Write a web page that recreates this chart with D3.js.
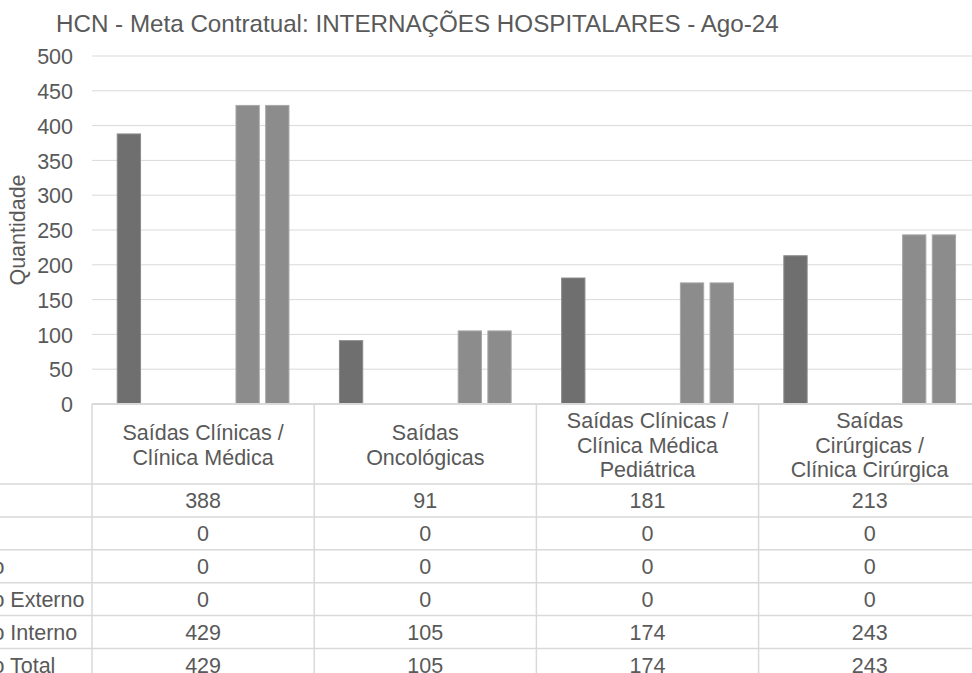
<!DOCTYPE html>
<html>
<head>
    <meta charset="UTF-8">
    <title>HCN - Internações Hospitalares</title>
    <style>
        body {
            margin: 0;
            background-color: white;
            overflow: hidden;
        }
        svg text {
            font-family: "Liberation Sans", Arial, sans-serif;
            fill: #595959;
        }
    </style>
</head>
<body>
    <svg></svg>
    <script src="https://d3js.org/d3.v7.min.js"></script>
    <script>
        // categories (line breaks as in the table header)
        let categories = ["Saídas Clínicas /\nClínica Médica", "Saídas\nOncológicas",
            "Saídas Clínicas /\nClínica Médica\nPediátrica", "Saídas\nCirúrgicas /\nClínica Cirúrgica"];
        // series (rows of the data table)
        let seriesNames = ["Realizado", "Meta", "Contratado", "Contratado Externo", "Contratado Interno", "Contratado Total"];
        let realizado = [388, 91, 181, 213];
        let meta = [0, 0, 0, 0];
        let contratado = [0, 0, 0, 0];
        let contratadoExterno = [0, 0, 0, 0];
        let contratadoInterno = [429, 105, 174, 243];
        let contratadoTotal = [429, 105, 174, 243];
        let yTicks = [0, 50, 100, 150, 200, 250, 300, 350, 400, 450, 500];

        let seriesValues = [realizado, meta, contratado, contratadoExterno, contratadoInterno, contratadoTotal];
        let seriesFill = ["#6f6f6f", "#7f7f7f", "#a5a5a5", "#bfbfbf", "#8c8c8c", "#8c8c8c"];
        let seriesStroke = ["#8a8a8a", "#999", "#bbb", "#ccc", "#a8a8a8", "#a8a8a8"];

        let width = 972, height = 673;
        let plotLeft = 92, plotTop = 56, plotBottom = 404;
        let colW = 222.2;
        let headerH = 80, rowH = 32.9;

        let svg = d3.select("svg")
            .attr("width", width)
            .attr("height", height);

        let x0 = d3.scaleBand()
            .domain(categories)
            .range([plotLeft, plotLeft + colW * categories.length]);

        let x1 = d3.scaleBand()
            .domain(seriesNames)
            .range([0, x0.bandwidth()])
            .paddingInner(0.215)
            .paddingOuter(0.85);

        let y = d3.scaleLinear()
            .domain([0, 500])
            .range([plotBottom, plotTop]);

        // gridlines
        svg.append("g")
            .selectAll("line")
            .data(yTicks.slice(1))
            .enter()
            .append("line")
            .attr("x1", plotLeft)
            .attr("x2", width)
            .attr("y1", d => y(d))
            .attr("y2", d => y(d))
            .attr("stroke", "#d9d9d9")
            .attr("stroke-width", 1);

        // y axis labels
        let yAxis = d3.axisLeft(y).tickValues(yTicks).tickSize(0).tickPadding(19);
        svg.append("g")
            .attr("transform", "translate(" + plotLeft + ",0)")
            .call(yAxis)
            .call(g => g.select(".domain").remove())
            .selectAll("text")
            .style("font-size", "21.5px")
            .attr("fill", "#595959")
            .attr("dy", "0.36em");

        svg.append("text")
            .attr("transform", "translate(25," + ((plotTop + plotBottom) / 2) + ") rotate(-90)")
            .attr("text-anchor", "middle")
            .style("font-size", "21.5px")
            .text("Quantidade");

        // bars
        let rows = seriesNames.map((s, i) => ({ name: s, values: seriesValues[i], i: i }));
        svg.append("g")
            .selectAll("g")
            .data(rows)
            .enter()
            .append("g")
            .selectAll("rect")
            .data(r => r.values.map((v, j) => ({ series: r.name, i: r.i, cat: categories[j], value: v }))
                .filter(d => d.value > 0))
            .enter()
            .append("rect")
            .attr("x", d => x0(d.cat) + x1(d.series))
            .attr("y", d => y(d.value))
            .attr("width", x1.bandwidth())
            .attr("height", d => y(0) - y(d.value))
            .attr("fill", d => seriesFill[d.i])
            .attr("stroke", d => seriesStroke[d.i])
            .attr("stroke-width", 1);

        // data table
        let table = svg.append("g");
        let tableLine = "#d9d9d9";

        // top border (axis line)
        table.append("line")
            .attr("x1", plotLeft).attr("x2", width)
            .attr("y1", plotBottom).attr("y2", plotBottom)
            .attr("stroke", tableLine).attr("stroke-width", 2);

        // row lines
        let rowY = seriesNames.map((s, i) => plotBottom + headerH + i * rowH);
        table.selectAll(".rowline")
            .data(rowY)
            .enter()
            .append("line")
            .attr("class", "rowline")
            .attr("x1", 0).attr("x2", width)
            .attr("y1", d => d).attr("y2", d => d)
            .attr("stroke", tableLine).attr("stroke-width", 1.5);

        // column lines
        table.selectAll(".colline")
            .data(categories)
            .enter()
            .append("line")
            .attr("class", "colline")
            .attr("x1", d => x0(d)).attr("x2", d => x0(d))
            .attr("y1", plotBottom).attr("y2", height)
            .attr("stroke", tableLine).attr("stroke-width", 1.5);

        // header labels
        table.selectAll(".header")
            .data(categories)
            .enter()
            .append("text")
            .attr("class", "header")
            .attr("text-anchor", "middle")
            .style("font-size", "21.5px")
            .each(function (d) {
                let lines = d.split("\n");
                let cx = x0(d) + x0.bandwidth() / 2;
                d3.select(this).selectAll("tspan")
                    .data(lines)
                    .enter()
                    .append("tspan")
                    .attr("x", cx)
                    .attr("y", (l, k) => 452.5 + (k - (lines.length - 1) / 2) * 24.3)
                    .text(l => l);
            });

        // row labels (cut at the left edge, like the original crop)
        table.selectAll(".rowlabel")
            .data(seriesNames)
            .enter()
            .append("text")
            .attr("class", "rowlabel")
            .attr("x", -102)
            .attr("y", (d, i) => rowY[i] + rowH / 2)
            .attr("dy", "0.36em")
            .style("font-size", "21.5px")
            .text(d => d);

        // cell values
        rows.forEach((r, i) => {
            table.selectAll(".cell" + i)
                .data(r.values)
                .enter()
                .append("text")
                .attr("x", (v, j) => x0(categories[j]) + x0.bandwidth() / 2)
                .attr("y", rowY[i] + rowH / 2)
                .attr("dy", "0.36em")
                .attr("text-anchor", "middle")
                .style("font-size", "21.5px")
                .text(v => v);
        });

        // title
        svg.append("text")
            .attr("x", 56)
            .attr("y", 32)
            .style("font-size", "24.2px")
            .text("HCN - Meta Contratual: INTERNAÇÕES HOSPITALARES - Ago-24");
    </script>
</body>
</html>
